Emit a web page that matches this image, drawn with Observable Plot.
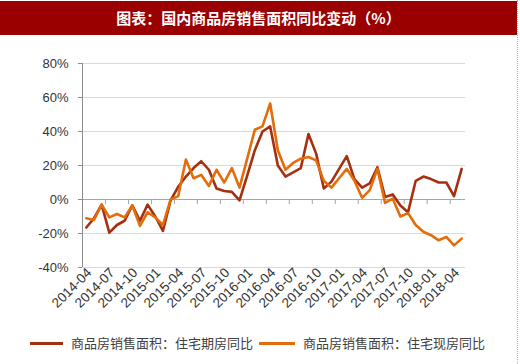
<!DOCTYPE html>
<html>
<head>
<meta charset="utf-8">
<script src="https://cdn.jsdelivr.net/npm/d3@7"></script>
<script src="https://cdn.jsdelivr.net/npm/@observablehq/plot@0.6"></script>
<style>
  html, body { margin: 0; padding: 0; background: #fff; }
  #wrap { position: relative; width: 520px; height: 364px; overflow: hidden; font-family: "Noto Sans CJK SC", sans-serif; }
  #title { position: absolute; left: 0; top: 1px; width: 517px; height: 34px; background: #9a0000; color: #fff;
           font-size: 15px; font-weight: 600; line-height: 34px; text-align: center; letter-spacing: 0px; }
  #border { position: absolute; left: 517px; top: 0; width: 0; height: 364px; border-left: 1px dotted #9fb8d8; }
  #chart { position: absolute; left: 0; top: 37px; }
  .leg { position: absolute; top: 335px; font-size: 13px; color: #404040; line-height: 16px; white-space: nowrap; }
  .sw { display: inline-block; vertical-align: middle; height: 3px; margin-right: 8px; position: relative; top: -1px; }
</style>
</head>
<body>
<div id="wrap">
  <div id="title">图表：国内商品房销售面积同比变动（%）</div>
  <div id="border"></div>
  <div id="chart"></div>
  <div class="leg" id="leg1" style="left:30px"><span class="sw" style="width:33px;background:#a5300f"></span>商品房销售面积：住宅期房同比</div>
  <div class="leg" id="leg2" style="left:259px"><span class="sw" style="width:36px;background:#e46c0a"></span>商品房销售面积：住宅现房同比</div>
</div>
<script>
const months = [
  "2014-04","2014-05","2014-06","2014-07","2014-08","2014-09","2014-10","2014-11","2014-12",
  "2015-01","2015-02","2015-03","2015-04","2015-05","2015-06","2015-07","2015-08","2015-09","2015-10","2015-11","2015-12",
  "2016-01","2016-02","2016-03","2016-04","2016-05","2016-06","2016-07","2016-08","2016-09","2016-10","2016-11","2016-12",
  "2017-01","2017-02","2017-03","2017-04","2017-05","2017-06","2017-07","2017-08","2017-09","2017-10","2017-11","2017-12",
  "2018-01","2018-02","2018-03","2018-04","2018-05"
];
const tickLabels = ["2014-04","2014-07","2014-10","2015-01","2015-04","2015-07","2015-10","2016-01","2016-04","2016-07","2016-10","2017-01","2017-04","2017-07","2017-10","2018-01","2018-04"];
const qifang = [
  -16.5,-11,-3,-19.5,-15,-12.5,-3.5,-12.5,-3,-10,-18.5,-0.5,7.5,13.5,18.5,22.5,17.5,6.5,5,4.5,-0.5,
  14,29,40,43,20,13.5,16,18.5,38.5,27,6.5,10.5,18,25.5,12,7,9.5,19,1.5,3,-3.5,-7.5,11,13.5,12,10,10,2,18
];
const xianfang = [
  -11,-12,-3,-10.5,-8.5,-10.5,-3.5,-15.5,-7.5,-10.5,-15,0,2,23.5,12.5,14.5,8,17.5,10,18.5,7,
  24,41,43,56.5,29,17.5,21.5,24,25,23,11,7,12.5,18,11,1,5.5,18,-2,0.5,-10,-8,-15,-19,-21,-24,-22,-27,-23
];
const yTicks = [-40,-20,0,20,40,60,80];
const seriesNames = ["商品房销售面积：住宅期房同比","商品房销售面积：住宅现房同比"];

const rows = [];
months.forEach((m, i) => {
  rows.push({month: m, value: qifang[i], series: seriesNames[0]});
  rows.push({month: m, value: xianfang[i], series: seriesNames[1]});
});

const W = 520, H = 290, ML = 82, MR = 55, MT = 26, MB = 60;
const step = (W - ML - MR) / months.length;
const boundaryCats = months.filter((m, i) => i > 0 && i % 3 === 0);

const chart = Plot.plot({
  width: W, height: H,
  marginLeft: ML, marginRight: MR, marginTop: MT, marginBottom: MB,
  style: {fontFamily: "'Liberation Sans', Arial, sans-serif", fontSize: "12px", color: "#333333", background: "transparent"},
  x: {type: "point", domain: months, padding: 0.5},
  y: {domain: [-40, 80]},
  color: {domain: seriesNames, range: ["#a5300f", "#e46c0a"]},
  marks: [
    Plot.gridY(yTicks, {stroke: "#d9d9d9", strokeOpacity: 1}),
    Plot.ruleY([0], {stroke: "#a6a6a6"}),
    Plot.ruleX(boundaryCats, {y1: 0, y2: -3, dx: -step / 2, stroke: "#a6a6a6"}),
    Plot.ruleX([months[0]], {y1: -40, y2: 80, dx: -step / 2, stroke: "#8c8c8c"}),
    Plot.axisY(yTicks, {tickFormat: d => d + "%", tickSize: 4, tickPadding: 10, stroke: "#8c8c8c", fontSize: 13, label: null}),
    Plot.axisX(tickLabels, {tickRotate: -45, tickSize: 0, tickPadding: 3, fontSize: 13.5, label: null, dx: 3}),
    Plot.lineY(rows, {x: "month", y: "value", z: "series", stroke: "series", strokeWidth: 2.6, strokeLinejoin: "round"})
  ]
});
document.getElementById("chart").appendChild(chart);
</script>
</body>
</html>
